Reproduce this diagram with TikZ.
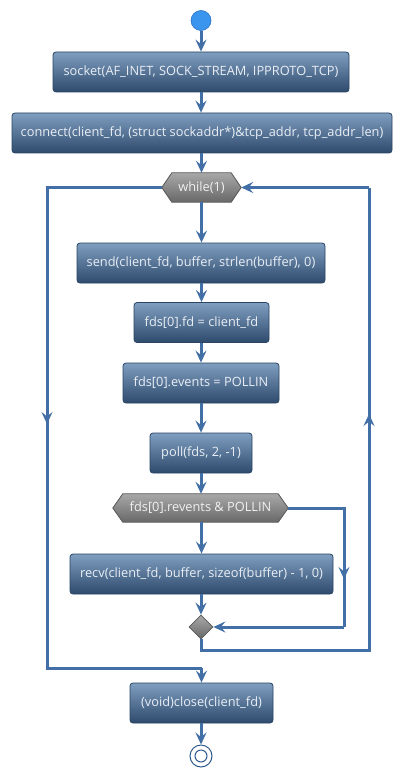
\documentclass[tikz,border=0pt]{standalone}
\usepackage{fontspec}
\setmainfont{Open Sans}
\usetikzlibrary{arrows.meta,shapes.geometric,calc,backgrounds}
\definecolor{flow}{HTML}{4270A6}
\definecolor{boxtop}{HTML}{7F9EC0}
\definecolor{boxbot}{HTML}{2E4A6C}
\definecolor{boxline}{HTML}{2A4464}
\definecolor{boxtext}{HTML}{E8EEF4}
\definecolor{hextop}{HTML}{A8A8A8}
\definecolor{hexbot}{HTML}{686868}
\definecolor{hexline}{HTML}{575757}
\definecolor{hextext}{HTML}{F0F0F0}
\definecolor{startfill}{HTML}{3A95EE}
\definecolor{startline}{HTML}{2A6FC0}
\definecolor{endline}{HTML}{2E5A8E}
\tikzset{
  act/.style={rectangle, rounded corners=3pt, draw=boxline, line width=0.8pt,
    top color=boxtop, bottom color=boxbot, text=boxtext, minimum height=40pt,
    inner sep=0pt, font=\fontsize{12.8}{15}\selectfont},
  hexlabel/.style={rectangle, inner sep=0pt, minimum height=29pt, text=hextext,
    font=\fontsize{12.8}{15}\selectfont},
  hexfill/.style={top color=hextop, bottom color=hexbot, draw=hexline, line width=0.8pt},
  mergenode/.style={diamond, minimum width=24pt, minimum height=24pt, inner sep=0pt,
    top color=hextop, bottom color=hexbot, draw=hexline, line width=0.8pt},
  startnode/.style={circle, minimum size=20pt, inner sep=0pt, fill=startfill, draw=startline, line width=0.6pt},
  endnode/.style={circle, inner sep=0pt, draw=endline, line width=1pt},
  flowline/.style={draw=flow, line width=3pt},
  flowarrow/.style={flowline, -{Stealth[length=12pt,width=11pt,inset=4.5pt]}},
}
\begin{document}
\begin{tikzpicture}[x=1pt,y=-1pt]
\useasboundingbox (0,0) rectangle (401,778);

\node[startnode] (start) at (201,20.5) {};
\node[act, minimum width=296pt] (socket) at (201,72) {socket(AF\_INET, SOCK\_STREAM, IPPROTO\_TCP)};
\node[act, minimum width=380pt] (connect) at (202,133) {connect(client\_fd, (struct sockaddr*)\&tcp\_addr, tcp\_addr\_len)};
\node[hexlabel, minimum width=59pt] (while) at (201.5,187.5) {while(1)};
\node[act, minimum width=248pt] (send) at (201,263) {send(client\_fd, buffer, strlen(buffer), 0)};
\node[act, minimum width=135pt] (fd) at (201.5,322.5) {fds[0].fd = client\_fd};
\node[act, minimum width=156pt] (events) at (201,383) {fds[0].events = POLLIN};
\node[act, minimum width=102pt] (poll) at (201,453) {poll(fds, 2, -1)};
\node[hexlabel, minimum width=155pt, minimum height=28pt] (revents) at (200.5,508) {fds[0].revents \& POLLIN};
\node[act, minimum width=263pt] (recv) at (201.5,574) {recv(client\_fd, buffer, sizeof(buffer) - 1, 0)};
\node[mergenode] (merge) at (201,627) {};
\node[act, minimum width=143pt] (close) at (201.5,703) {(void)close(client\_fd)};
\node[endnode, minimum size=22pt] (end) at (201,756) {};
\node[endnode, minimum size=12pt] (endin) at (201,756) {};

\begin{scope}[on background layer]
\fill[white] (0,0) rectangle (401,778);
\path[hexfill] (while.north west) -- (while.north east) -- ($(while.east)+(10,0)$)
  -- (while.south east) -- (while.south west) -- ($(while.west)+(-10,0)$) -- cycle;
\path[hexfill] (revents.north west) -- (revents.north east) -- ($(revents.east)+(10,0)$)
  -- (revents.south east) -- (revents.south west) -- ($(revents.west)+(-10,0)$) -- cycle;
\end{scope}

\coordinate (whileL) at ($(while.west)+(-10,0)$);
\coordinate (whileR) at ($(while.east)+(10,0)$);
\coordinate (revR) at ($(revents.east)+(10,0)$);

% main chain
\draw[flowarrow] (start) -- (socket);
\draw[flowarrow] (socket) -- (connect.north -| socket);
\draw[flowarrow] (connect.south -| while) -- (while.north);
\draw[flowarrow] (while.south) -- (send.north -| while);
\draw[flowarrow] (send.south -| fd) -- (fd.north);
\draw[flowarrow] (fd.south -| events) -- (events.north);
\draw[flowarrow] (events) -- (poll);
\draw[flowarrow] (poll.south) -- (revents.north -| poll);
\draw[flowarrow] (revents.south -| recv) -- (recv.north);
\draw[flowarrow] (recv.south -| merge) -- (merge.north);
\draw[flowarrow] (close.south -| end) -- (end.north);

% else branch of if
\coordinate (rb1) at (344,508);
\coordinate (rbm) at (344,579);
\coordinate (rb2) at (344,627);
\draw[flowline] (revR) -- (rb1) -- (rbm);
\draw[flowarrow] (rb1) -- (rbm);
\draw[flowline] (rbm) -- (rb2);
\draw[flowarrow] (rb2) -- (merge.east);

% loop back
\coordinate (lb1) at (201,650);
\coordinate (lb2) at (369,650);
\coordinate (lbm) at (369,414);
\coordinate (lb3) at (369,187.5);
\draw[flowline] (merge.south) -- (lb1) -- (lb2) -- (lbm);
\draw[flowarrow] (lb2) -- (lbm);
\draw[flowline] (lbm) -- (lb3);
\draw[flowarrow] (lb3) -- (whileR);

% loop exit
\coordinate (ex1) at (47,187.5);
\coordinate (exm) at (47,424);
\coordinate (ex2) at (47,668);
\coordinate (ex3) at (201.5,668);
\draw[flowline] (whileL) -- (ex1) -- (exm);
\draw[flowarrow] (ex1) -- (exm);
\draw[flowline] (exm) -- (ex2) -- (ex3);
\draw[flowarrow] (ex3) -- (close.north);
\end{tikzpicture}
\end{document}
